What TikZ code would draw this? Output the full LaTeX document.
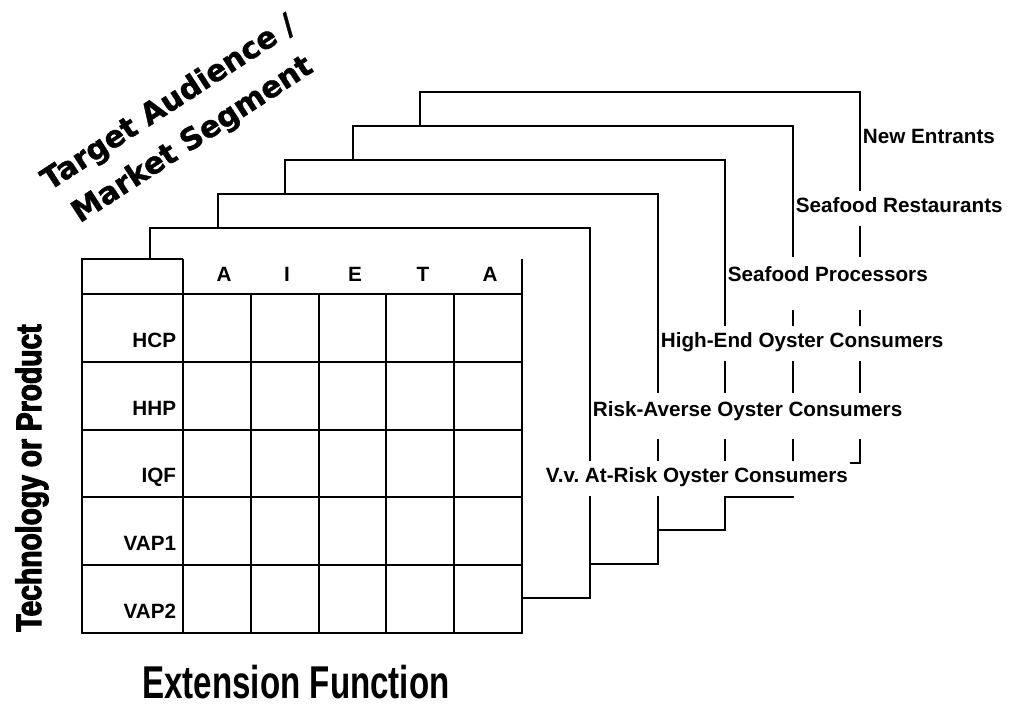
\documentclass[tikz,border=0pt]{standalone}
\usepackage{fontspec}
\setmainfont{Liberation Sans}
\newfontfamily\segfont[FakeBold=1.2]{DejaVu Sans Bold}
\newfontfamily\axisfont[FakeBold=3,FakeStretch=0.8]{Liberation Sans Bold}
\newfontfamily\funcfont[FakeStretch=0.72]{Liberation Sans Bold}

\begin{document}
\begin{tikzpicture}[x=0.75pt,y=-0.75pt,line width=1.4pt,
  seglabel/.style={fill=white,font=\bfseries\fontsize{15.5}{18}\selectfont,
    inner xsep=1.5pt,inner ysep=0pt,text height=16pt,text depth=10pt,anchor=south west},
  rowlabel/.style={seglabel,anchor=south east,text width=42pt,align=right,inner xsep=4.5pt},
  colhead/.style={font=\bfseries\fontsize{15.5}{18}\selectfont,anchor=base,inner sep=0pt}]
  \useasboundingbox (0,0) rectangle (1011,711);
  % sheets behind the matrix, back to front
  \filldraw[fill=white] (420,92) rectangle (860,463);
  \filldraw[fill=white] (353,126) rectangle (793,497);
  \filldraw[fill=white] (285,160) rectangle (725,530);
  \filldraw[fill=white] (218,194) rectangle (658,564);
  \filldraw[fill=white] (150,228) rectangle (590,598);
  % the matrix itself
  \fill[white] (82,259) rectangle (522,633);
  \draw (183,259) -- (82,259) -- (82,633) -- (522,633) -- (522,259);
  \draw (183,259) -- (183,633);
  \draw (82,294) -- (522,294);
  \draw (82,362) -- (522,362);
  \draw (82,430) -- (522,430);
  \draw (82,497) -- (522,497);
  \draw (82,565) -- (522,565);
  \draw (251,294) -- (251,633);
  \draw (319,294) -- (319,633);
  \draw (386,294) -- (386,633);
  \draw (454,294) -- (454,633);

  \node[colhead] (ca) at (224,281) {A};
  \node[colhead] (ci) at (287,281) {I};
  \node[colhead] (ce) at (355,281) {E};
  \node[colhead] (ct) at (423,281) {T};
  \node[colhead] (cb) at (490,281) {A};

  \node[rowlabel] (hcp) at (183,362) {HCP};
  \node[rowlabel] (hhp) at (183,430) {HHP};
  \node[rowlabel] (iqf) at (183,497) {IQF};
  \node[rowlabel] (vapa) at (183,565) {VAP1};
  \node[rowlabel] (vapb) at (183,633) {VAP2};

  % segment names on the sheet edges
  \node[seglabel] (newent) at (860,158) {New Entrants};
  \node[seglabel] (restaur) at (793,227) {Seafood Restaurants};
  \node[seglabel,text height=18pt,text depth=21.75pt] (process) at (725,311) {Seafood Processors};
  \node[seglabel] (highend) at (658,362) {High-End Oyster Consumers};
  \node[seglabel,text height=17.25pt,text depth=17.25pt] (riskav) at (590,440) {Risk-Averse Oyster Consumers};
  \node[seglabel] (atrisk) at (543,497) {V.v.\ At-Risk Oyster Consumers};

  \node[font=\segfont\fontsize{22.5}{32.7}\selectfont,align=center,rotate=33] (segtitle) at (181,122) {Target Audience /\\Market Segment};
  \node[font=\axisfont\fontsize{26.5}{30}\selectfont,rotate=90,anchor=base] (techtitle) at (41,478) {Technology or Product};
  \node[font=\funcfont\fontsize{34.5}{40}\selectfont,anchor=base] (functitle) at (296,698) {Extension Function};
\end{tikzpicture}
\end{document}
